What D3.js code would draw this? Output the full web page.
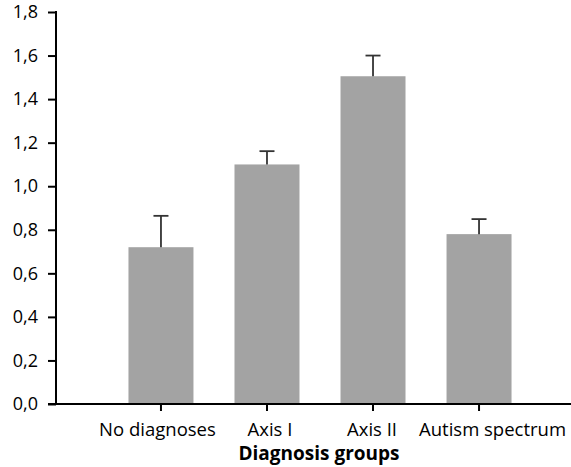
<!DOCTYPE html>
<html>
<head>
<meta charset="utf-8">
<script src="https://cdn.jsdelivr.net/npm/d3@7"></script>
<style>
  body { margin: 0; background: #fff; }
  text { font-family: "Open Sans", "Noto Sans", sans-serif; fill: #000; }
</style>
</head>
<body>
<svg width="571" height="467"></svg>
<script>
// diagnosis groups and their means with upper error
var groups = ["No diagnoses", "Axis I", "Axis II", "Autism spectrum"];
var means = [0.72, 1.10, 1.505, 0.78];
var errTops = [0.864, 1.161, 1.60, 0.849];
var yTicks = [0, 0.2, 0.4, 0.6, 0.8, 1.0, 1.2, 1.4, 1.6, 1.8];

var svg = d3.select("svg");

var x = d3.scaleBand()
  .domain(groups)
  .range([55, 585])
  .paddingInner(0.387)
  .paddingOuter(0.693);

var y = d3.scaleLinear()
  .domain([0, 1.8])
  .range([404, 12]);

var fmt = function (d) { return d3.format(".1f")(d).replace(".", ","); };

// bars
svg.selectAll(".bar")
  .data(groups)
  .enter().append("rect")
  .attr("class", "bar")
  .attr("x", function (d) { return x(d); })
  .attr("width", x.bandwidth())
  .attr("y", function (d, i) { return y(means[i]); })
  .attr("height", function (d, i) { return y(0) - y(means[i]); })
  .attr("fill", "#a3a3a3");

// error bars (upper only)
var err = svg.selectAll(".err")
  .data(groups)
  .enter().append("g")
  .attr("class", "err")
  .attr("stroke", "#333")
  .attr("stroke-width", 1.8);

err.append("line")
  .attr("x1", function (d) { return x(d) + x.bandwidth() / 2; })
  .attr("x2", function (d) { return x(d) + x.bandwidth() / 2; })
  .attr("y1", function (d, i) { return y(means[i]); })
  .attr("y2", function (d, i) { return y(errTops[i]); });

err.append("line")
  .attr("x1", function (d) { return x(d) + x.bandwidth() / 2 - 7.5; })
  .attr("x2", function (d) { return x(d) + x.bandwidth() / 2 + 7.5; })
  .attr("y1", function (d, i) { return y(errTops[i]); })
  .attr("y2", function (d, i) { return y(errTops[i]); });

// y axis
var yAxis = svg.append("g")
  .attr("transform", "translate(56,0)")
  .call(d3.axisLeft(y).tickValues(yTicks).tickFormat(fmt).tickSize(8).tickPadding(10));
yAxis.select(".domain").remove();
yAxis.selectAll(".tick line").attr("stroke", "#000").attr("stroke-width", 2);
yAxis.selectAll(".tick text").style("font-size", "18px").attr("fill", "#000");
svg.append("line")
  .attr("x1", 56).attr("x2", 56)
  .attr("y1", y(1.8) - 1).attr("y2", y(0) + 1)
  .attr("stroke", "#000").attr("stroke-width", 2);

// x axis
var xAxis = svg.append("g")
  .attr("transform", "translate(0," + y(0) + ")")
  .call(d3.axisBottom(x).tickSize(7).tickPadding(12));
xAxis.select(".domain").remove();
xAxis.selectAll(".tick line").attr("stroke", "#000").attr("stroke-width", 2);
// labels sit a little off their ticks in the original, last one nudged right
var labelShift = [-3.5, 3, -1, 13.5];
xAxis.selectAll(".tick text")
  .style("font-size", "18.5px")
  .attr("fill", "#000")
  .attr("dx", function (d, i) { return labelShift[i]; });
svg.append("line")
  .attr("x1", 48).attr("x2", 571)
  .attr("y1", y(0)).attr("y2", y(0))
  .attr("stroke", "#000").attr("stroke-width", 2);

// axis title
svg.append("text")
  .attr("x", 319)
  .attr("y", 460)
  .attr("text-anchor", "middle")
  .style("font-size", "19px")
  .style("font-weight", "bold")
  .text("Diagnosis groups");
</script>
</body>
</html>
